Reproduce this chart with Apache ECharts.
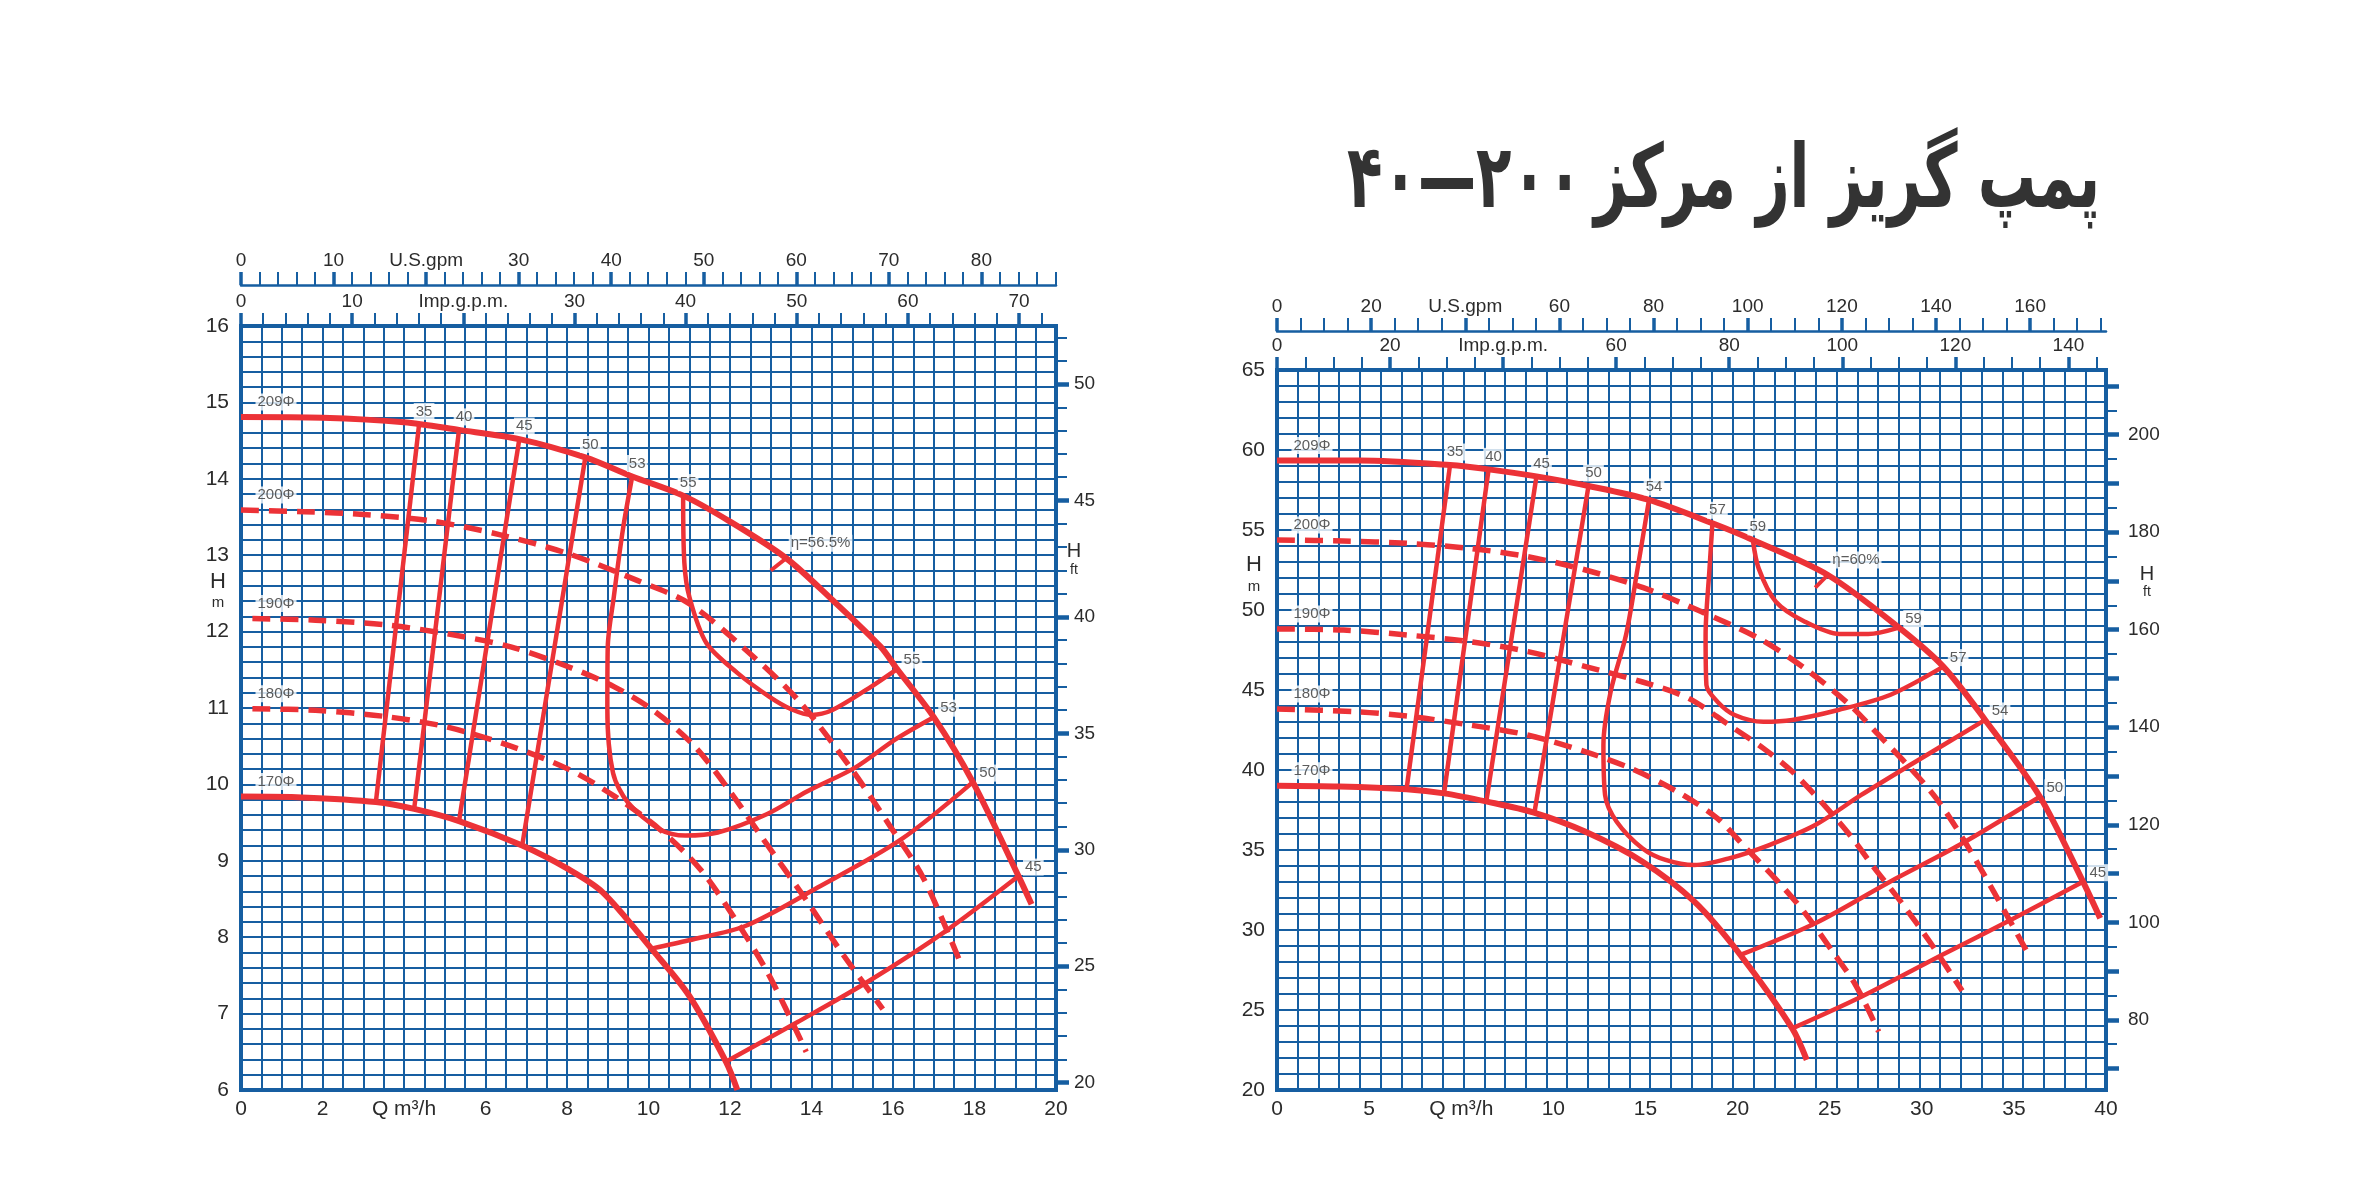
<!DOCTYPE html>
<html>
<head>
<meta charset="utf-8">
<script src="https://cdn.jsdelivr.net/npm/echarts@6/dist/echarts.min.js"></script>
<style>
  html, body { margin: 0; padding: 0; background: #fff; }
  #chart { width: 2363px; height: 1182px; }
</style>
</head>
<body>
<div id="chart"></div>
<script>
// ---------- Left sheet: Q in m³/h, H in m ----------
// impeller diameter curves
const L_D209 = [[0,14.81],[2,14.80],[4,14.74],[5.35,14.64],[6.83,14.52],[8.45,14.28],[9.6,14.03],[10.85,13.78],[12,13.44],[13.38,12.96],[14.5,12.42],[15.7,11.8],[16.1,11.51],[17.0,10.88],[17.96,10.03],[19.08,8.8],[19.4,8.43]];
const L_D200 = [[0,13.59],[1.55,13.57],[3.1,13.53],[4.65,13.45],[6.34,13.27],[8.03,13.02],[9.72,12.67],[10.99,12.37],[12.39,11.76],[13.66,11.11],[14.93,10.24],[15.92,9.46],[16.76,8.76],[17.65,7.67]];
const L_D190 = [[0.28,12.17],[1.83,12.15],[3.52,12.09],[5.07,11.97],[6.62,11.8],[8.03,11.54],[9.15,11.28],[10.14,10.96],[11.13,10.5],[11.97,9.93],[12.82,9.28],[13.8,8.54],[14.79,7.76],[15.75,7.06]];
const L_D180 = [[0.28,10.99],[1.83,10.97],[3.52,10.89],[5.07,10.75],[6.62,10.5],[8.03,10.2],[9.15,9.85],[10.28,9.41],[11.27,8.89],[12.11,8.25],[12.96,7.5],[13.87,6.5]];
const L_D170 = [[0,9.84],[1.5,9.83],[3.31,9.77],[4.25,9.68],[5.35,9.52],[6.9,9.2],[8.0,8.9],[8.87,8.59],[10.07,7.85],[10.99,7.24],[11.9,6.37],[12.18,6.0]];
// iso-efficiency lines (%)
const L_E35 = [[4.37,14.71],[3.31,9.77]];
const L_E40 = [[5.35,14.64],[4.25,9.68]];
const L_E45 = [[6.83,14.52],[5.35,9.52]];
const L_E50 = [[8.45,14.28],[6.9,9.2]];
const L_E53 = [[9.6,14.03],[9.37,13.33],[9.15,12.46],[9.0,11.8],[8.99,11.0],[9.13,10.15],[9.5,9.76],[10.28,9.41],[10.9,9.33],[11.7,9.37],[12.9,9.61],[13.9,9.91],[15.07,10.22],[16.06,10.59],[17.0,10.88]];
const L_E55 = [[10.85,13.78],[10.88,12.9],[11.0,12.46],[11.42,11.85],[12.18,11.46],[12.96,11.15],[13.52,10.98],[14.01,10.91],[14.5,10.97],[15.35,11.24],[16.1,11.51]];
const L_E50R = [[10.07,7.85],[10.99,7.96],[12.39,8.15],[14.15,8.65],[16.2,9.28],[17.96,10.03]];
const L_E45R = [[11.9,6.37],[13.66,6.89],[15.42,7.43],[17.32,8.09],[19.08,8.8]];
const L_ETA = [[13.38,12.96],[13.0,12.8]];
const L_ETA_TEXT = 'η=56.5%';
// axis values
const L_Q_LABELS = ['0','2','Q m³/h','6','8','10','12','14','16','18','20'];
const L_H_LABELS = [6,7,8,9,10,11,12,13,14,15,16];
const L_IMP_MINOR = [0,2,4,6,8,10,12,14,16,18,20,22,24,26,28,30,32,34,36,38,40,42,44,46,48,50,52,54,56,58,60,62,64,66,68,70,72];
const L_IMP_LABELS = [0,10,20,30,40,50,60,70];
const L_US_MINOR = [0,2,4,6,8,10,12,14,16,18,20,22,24,26,28,30,32,34,36,38,40,42,44,46,48,50,52,54,56,58,60,62,64,66,68,70,72,74,76,78,80,82,84,86,88];
const L_US_LABELS = [0,10,20,30,40,50,60,70,80];
const L_FT_MINOR = [20,21,22,23,24,25,26,27,28,29,30,31,32,33,34,35,36,37,38,39,40,41,42,43,44,45,46,47,48,49,50,51,52];
const L_FT_LABELS = [20,25,30,35,40,45,50];

// ---------- Right sheet: Q in m³/h, H in m ----------
const R_D209 = [[0,59.35],[4,59.35],[8.35,59.06],[10.21,58.79],[12.52,58.35],[15.03,57.75],[17.95,56.88],[21.01,55.42],[22.96,54.38],[26.58,52.19],[30.06,48.85],[32.15,46.46],[34.17,43.13],[36.81,38.33],[38.89,33.02],[39.72,30.73]];
const R_D200 = [[0,54.38],[3.2,54.31],[6.26,54.17],[9.32,53.85],[12.11,53.33],[14.89,52.5],[17.67,51.4],[20.46,49.9],[23.24,48.23],[25.47,46.35],[27.64,44.06],[29.03,42.19],[30.42,40.31],[31.81,38.23],[33.19,35.52],[34.58,32.4],[36.25,28.5]];
const R_D190 = [[0,48.81],[3.2,48.75],[6.26,48.44],[9.32,48.02],[12.11,47.4],[14.89,46.46],[17.64,45.5],[19.86,44.48],[21.81,42.81],[23.47,41.35],[24.86,39.9],[26.25,38.02],[27.64,35.94],[28.75,34.0],[30.14,31.7],[31.53,29.2],[33.06,26.2]];
const R_D180 = [[0,43.81],[3.75,43.65],[6.53,43.33],[9.31,42.81],[12.08,42.19],[14.86,41.15],[17.08,40.1],[19.31,38.65],[21.25,36.98],[22.64,35.1],[24.03,33.23],[25.42,31.15],[26.81,28.65],[27.92,26.56],[29.03,23.65]];
const R_D170 = [[0,39.02],[3,38.97],[6.25,38.79],[8.06,38.54],[10.14,38.02],[12.36,37.35],[14.86,36.15],[17.64,34.27],[20.14,31.77],[22.36,28.44],[24.86,23.85],[25.56,21.88]];
const R_E35 = [[8.35,59.06],[6.25,38.79]];
const R_E40 = [[10.21,58.79],[8.06,38.54]];
const R_E45 = [[12.52,58.35],[10.1,38.03]];
const R_E50 = [[15.03,57.75],[12.42,37.32]];
const R_E54 = [[17.95,56.88],[17.4,52.6],[16.84,48.44],[16.1,44.9],[15.75,41.56],[15.83,38.44],[16.39,36.77],[17.64,35.1],[18.75,34.38],[20.14,34.06],[21.81,34.48],[23.75,35.31],[25.97,36.56],[28.19,38.44],[30.69,40.42],[34.17,43.13]];
const R_E57 = [[21.01,55.42],[20.87,52.6],[20.68,48.44],[20.72,45.3],[21.25,44.27],[22.08,43.44],[23.47,43.02],[24.86,43.13],[27.08,43.75],[29.58,44.69],[32.15,46.46]];
const R_E59 = [[22.96,54.38],[23.24,52.6],[24.07,50.52],[25.47,49.27],[27.14,48.5],[28.53,48.5],[30.0,48.9]];
const R_E50R = [[22.36,28.44],[25.97,30.42],[29.58,33.02],[32.92,35.31],[36.81,38.33]];
const R_E45R = [[24.86,23.85],[28.19,25.83],[32.08,28.44],[35.56,30.73],[38.89,33.02]];
const R_ETA = [[26.58,52.19],[25.97,51.4]];
const R_ETA_TEXT = 'η=60%';
// bottom labels are set out evenly along the axis
const R_Q_LABELS = ['0','5','Q m³/h','10','15','20','25','30','35','40'];
const R_H_LABELS = [20,25,30,35,40,45,50,55,60,65];
const R_IMP_MINOR = [0,5,10,15,20,25,30,35,40,45,50,55,60,65,70,75,80,85,90,95,100,105,110,115,120,125,130,135,140,145];
const R_IMP_LABELS = [0,20,40,60,80,100,120,140];
const R_US_MINOR = [0,5,10,15,20,25,30,35,40,45,50,55,60,65,70,75,80,85,90,95,100,105,110,115,120,125,130,135,140,145,150,155,160,165,170,175];
const R_US_LABELS = [0,20,40,60,80,100,120,140,160];
const R_FT_MINOR = [70,75,80,85,90,95,100,105,110,115,120,125,130,135,140,145,150,155,160,165,170,175,180,185,190,195,200,205,210];
const R_FT_MAJOR = [70,80,90,100,110,120,130,140,150,160,170,180,190,200,210];
const R_FT_LABELS = [80,100,120,140,160,180,200];

const TITLE = 'پمپ گریز از مرکز\u2009۲۰۰—۴۰';

// ---------- styling ----------
const BLUE = '#165ea1';
const RED = '#ec3237';
const INK = '#2b2b2b';
const FONT = '"Liberation Sans", Arial, sans-serif';
const Q_IMP = 3.6662;   // Imp. gpm per m³/h
const Q_USG = 4.4029;   // US gpm per m³/h
const M_FT = 1 / 0.3048;

const gridLine = { show: true, lineStyle: { color: BLUE, width: 2 } };

function axesFor(g, c) {
  const base = {
    gridIndex: g, type: 'value', silent: true,
    splitLine: { show: false },
    axisLine: { show: false, onZero: false },
    axisTick: { show: false },
    axisLabel: { show: false }
  };
  const lbl = (vals, fmt, size, margin) => ({
    show: true, customValues: vals, formatter: fmt, fontSize: size,
    color: INK, margin: margin, fontFamily: FONT
  });
  const tick = (vals, len, w) => ({
    show: true, customValues: vals, length: len, lineStyle: { color: BLUE, width: w }
  });
  const impMax = c.qMax * Q_IMP, usMax = c.qMax * Q_USG;
  const x = [
    Object.assign({}, base, { position: 'bottom', min: 0, max: c.qMax, interval: c.qStep, splitLine: gridLine }),
    Object.assign({}, base, { position: 'top', min: 0, max: impMax, axisTick: tick(c.impMinor, 13, 2) }),
    Object.assign({}, base, {
      position: 'top', min: 0, max: impMax, axisTick: tick(c.impLabels, 13, 3.5),
      axisLabel: lbl(c.impLabels, v => (v === c.impName ? 'Imp.g.p.m.' : String(v)), 19, 15)
    }),
    Object.assign({}, base, {
      position: 'top', offset: c.usOffset, min: 0, max: usMax,
      axisLine: { show: true, onZero: false, lineStyle: { color: BLUE, width: 2.5 } },
      axisTick: tick(c.usMinor, 13, 2)
    }),
    Object.assign({}, base, {
      position: 'top', offset: c.usOffset, min: 0, max: usMax, axisTick: tick(c.usLabels, 13, 3.5),
      axisLabel: lbl(c.usLabels, v => (v === c.usName ? 'U.S.gpm' : String(v)), 19, 15)
    }),
    {
      gridIndex: g, type: 'category', position: 'bottom', data: c.qLabels, boundaryGap: false, silent: true,
      axisLine: { show: false, onZero: false }, axisTick: { show: false }, splitLine: { show: false },
      axisLabel: { show: true, interval: 0, fontSize: 21, color: INK, margin: 9, fontFamily: FONT }
    }
  ];
  const ftMin = c.hMin * M_FT, ftMax = c.hMax * M_FT;
  const y = [
    Object.assign({}, base, {
      position: 'left', min: c.hMin, max: c.hMax, interval: c.hStep, splitLine: gridLine,
      axisLabel: lbl(c.hLabels, v => String(v), 21, 12)
    }),
    Object.assign({}, base, { position: 'right', min: ftMin, max: ftMax, axisTick: tick(c.ftMinor, 11, 2) }),
    Object.assign({}, base, {
      position: 'right', min: ftMin, max: ftMax, axisTick: tick(c.ftMajor, 13, 4.5),
      axisLabel: lbl(c.ftLabels, v => String(v), 19, c.ftMargin)
    })
  ];
  return { x, y };
}

const leftAxes = axesFor(0, {
  qMax: 20, qStep: 0.5, qLabels: L_Q_LABELS,
  hMin: 6, hMax: 16, hStep: 0.2, hLabels: L_H_LABELS,
  impMinor: L_IMP_MINOR, impLabels: L_IMP_LABELS, impName: 20,
  usMinor: L_US_MINOR, usLabels: L_US_LABELS, usName: 20, usOffset: 41,
  ftMinor: L_FT_MINOR, ftMajor: L_FT_LABELS, ftLabels: L_FT_LABELS, ftMargin: 18
});
const rightAxes = axesFor(1, {
  qMax: 40, qStep: 1, qLabels: R_Q_LABELS,
  hMin: 20, hMax: 65, hStep: 1, hLabels: R_H_LABELS,
  impMinor: R_IMP_MINOR, impLabels: R_IMP_LABELS, impName: 40,
  usMinor: R_US_MINOR, usLabels: R_US_LABELS, usName: 40, usOffset: 39,
  ftMinor: R_FT_MINOR, ftMajor: R_FT_MAJOR, ftLabels: R_FT_LABELS, ftMargin: 22
});

const LEFT = { x: 0, y: 0 };
const RIGHT = { x: leftAxes.x.length, y: leftAxes.y.length };

function curve(data, at, width, dashed) {
  return {
    type: 'line', xAxisIndex: at.x, yAxisIndex: at.y, data: data,
    symbol: 'none', smooth: 0.3, silent: true, z: dashed ? 3 : 4,
    lineStyle: { color: RED, width: width, type: dashed ? [18, 10] : 'solid', cap: 'butt', join: 'round' }
  };
}

const tagStyle = {
  show: true, fontSize: 15, color: '#333', fontFamily: FONT,
  backgroundColor: '#fff', padding: [1, 2], formatter: p => p.name
};

function tags(at, items, labelOpts) {
  return {
    type: 'scatter', xAxisIndex: at.x, yAxisIndex: at.y, silent: true, z: 6,
    symbolSize: 1, itemStyle: { color: 'transparent' },
    data: items.map(it => ({ name: it[0], value: it[1] })),
    label: Object.assign({}, tagStyle, labelOpts)
  };
}

function sheetSeries(at, d, effTop, effEnd, eta, etaText) {
  const s = [];
  s.push(curve(d[0], at, 6, false));
  s.push(curve(d[1], at, 5.5, true));
  s.push(curve(d[2], at, 5.5, true));
  s.push(curve(d[3], at, 5.5, true));
  s.push(curve(d[4], at, 6, false));
  effTop.forEach(e => s.push(curve(e[1], at, 4.5, false)));
  effEnd.forEach(e => { if (!effTop.some(t => t[1] === e[1])) s.push(curve(e[1], at, 4.5, false)); });
  s.push(curve(eta, at, 4, false));
  // diameter tags sit above the start of each curve
  s.push(tags(at, d.map((c, i) => [['209Φ', '200Φ', '190Φ', '180Φ', '170Φ'][i], [0, c[0][1]]]),
    { position: 'right', distance: 14, offset: [0, -15] }));
  // efficiency tags at the upper ends of the iso-efficiency lines
  s.push(tags(at, effTop.map(e => [e[0], e[1][0]]), { position: 'top', distance: 4, offset: [5, 0] }));
  // efficiency tags at the right-hand ends
  s.push(tags(at, effEnd.map(e => [e[0], e[1][e[1].length - 1]]), { position: 'right', distance: 4, offset: [0, -9] }));
  // best efficiency marker
  s.push(tags(at, [[etaText, eta[0]]], { position: 'right', distance: 2, offset: [0, -15] }));
  return s;
}

const series = [].concat(
  sheetSeries(LEFT, [L_D209, L_D200, L_D190, L_D180, L_D170],
    [['35', L_E35], ['40', L_E40], ['45', L_E45], ['50', L_E50], ['53', L_E53], ['55', L_E55]],
    [['55', L_E55], ['53', L_E53], ['50', L_E50R], ['45', L_E45R]],
    L_ETA, L_ETA_TEXT),
  sheetSeries(RIGHT, [R_D209, R_D200, R_D190, R_D180, R_D170],
    [['35', R_E35], ['40', R_E40], ['45', R_E45], ['50', R_E50], ['54', R_E54], ['57', R_E57], ['59', R_E59]],
    [['59', R_E59], ['57', R_E57], ['54', R_E54], ['50', R_E50R], ['45', R_E45R]],
    R_ETA, R_ETA_TEXT)
);

function caption(x, y, text, size) {
  return { type: 'text', x: x, y: y, silent: true,
    style: { text: text, fill: INK, font: size + 'px "Liberation Sans", Arial, sans-serif', align: 'center', verticalAlign: 'middle' } };
}

const option = {
  animation: false,
  backgroundColor: '#fff',
  textStyle: { fontFamily: FONT },
  grid: [
    { left: 241, top: 326, width: 815, height: 764, show: true, borderColor: BLUE, borderWidth: 4, backgroundColor: 'transparent' },
    { left: 1277, top: 370, width: 829, height: 720, show: true, borderColor: BLUE, borderWidth: 4, backgroundColor: 'transparent' }
  ],
  xAxis: leftAxes.x.concat(rightAxes.x),
  yAxis: leftAxes.y.concat(rightAxes.y),
  series: series,
  graphic: [
    { type: 'text', x: 2100, y: 184, scaleX: 0.66, silent: true,
      style: { text: TITLE, fill: '#333333', font: 'bold 88px "DejaVu Sans", sans-serif', align: 'right', verticalAlign: 'middle' } },
    caption(218, 582, 'H', 22), caption(218, 603, 'm', 15),
    caption(1074, 551, 'H', 20), caption(1074, 570, 'ft', 14),
    caption(1254, 565, 'H', 22), caption(1254, 587, 'm', 15),
    caption(2147, 574, 'H', 20), caption(2147, 592, 'ft', 14)
  ]
};

const chart = echarts.init(document.getElementById('chart'), null, { renderer: 'canvas' });
chart.setOption(option);
</script>
</body>
</html>
